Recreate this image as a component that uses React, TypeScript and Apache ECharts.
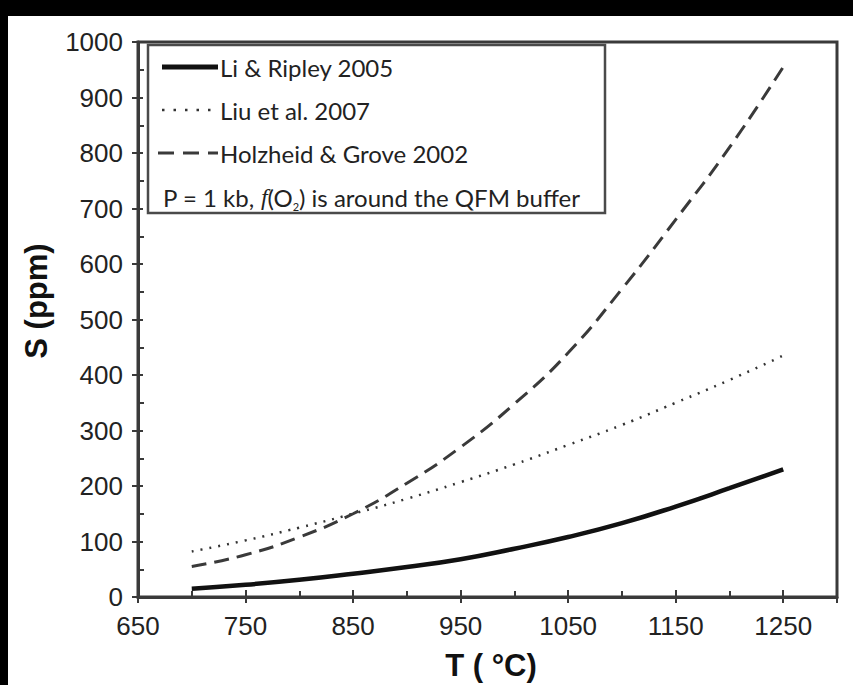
import React, { useEffect, useRef } from "react";
import * as echarts from "echarts";

const temps = [700, 750, 800, 850, 900, 950, 1000, 1050, 1100, 1150, 1200, 1250];
const liRipley = [15, 22, 31, 42, 54, 68, 87, 108, 133, 163, 196, 230];
const liu = [82, 102, 125, 150, 177, 207, 239, 274, 310, 350, 391, 435];
const holzheid = [55, 76, 108, 150, 205, 270, 348, 440, 555, 680, 810, 955];

const seriesNames = ["Li & Ripley 2005", "Liu et al. 2007", "Holzheid & Grove 2002"];
const noteText = "P = 1 kb, {i|f}(O{sub|2}) is around the QFM buffer";
const xTitle = "T ( °C)";
const yTitle = "S (ppm)";

const AXIS_COLOR = "#3a3a3a";
const LABEL_FONT = "'Liberation Sans', Arial, sans-serif";
const LEGEND_FONT = "Lato, 'Open Sans', sans-serif";

function pairs(vals: number[]) {
  return temps.map((t, i) => [t, vals[i]]);
}

export default function App() {
  const ref = useRef<HTMLDivElement>(null);
  useEffect(() => {
    if (!ref.current) return;
    const chart = echarts.init(ref.current, null, { renderer: "svg" });
    const legendRows = [67, 110, 153];
    const lineStyles = [
      { stroke: "#111", lineWidth: 5, lineDash: null as any },
      { stroke: "#333", lineWidth: 2.5, lineDash: [2.5, 9] },
      { stroke: "#3a3a3a", lineWidth: 3, lineDash: [16, 9] },
    ];
    const option: any = {
      animation: false,
      backgroundColor: "#fff",
      grid: {
        left: 138,
        top: 42,
        right: 16,
        bottom: 88,
        show: true,
        borderColor: AXIS_COLOR,
        borderWidth: 3,
        backgroundColor: "#fff",
      },
      xAxis: [
        {
          type: "value",
          min: 650,
          max: 1300,
          interval: 100,
          position: "bottom",
          axisLine: { show: true, onZero: false, lineStyle: { color: AXIS_COLOR, width: 3 } },
          axisTick: { show: true, inside: true, length: 7, lineStyle: { color: AXIS_COLOR, width: 2 } },
          minorTick: { show: true, splitNumber: 2, length: 6, lineStyle: { color: AXIS_COLOR, width: 2 } },
          splitLine: { show: false },
          axisLabel: {
            margin: 16,
            fontSize: 26,
            fontFamily: LABEL_FONT,
            color: "#222",
            formatter: (v: number) => (v === 1300 ? "" : String(v)),
          },
        },
        {
          type: "value",
          min: 650,
          max: 1300,
          interval: 100,
          position: "bottom",
          offset: 0,
          axisLine: { show: false },
          axisTick: { show: true, inside: false, length: 6, lineStyle: { color: AXIS_COLOR, width: 2 } },
          axisLabel: { show: false },
          splitLine: { show: false },
        },
      ],
      yAxis: [
        {
          type: "value",
          min: 0,
          max: 1000,
          interval: 100,
          position: "left",
          axisLine: { show: true, onZero: false, lineStyle: { color: AXIS_COLOR, width: 3 } },
          axisTick: { show: true, inside: true, length: 5, lineStyle: { color: AXIS_COLOR, width: 2 } },
          minorTick: { show: true, splitNumber: 2, length: 6, lineStyle: { color: AXIS_COLOR, width: 2 } },
          splitLine: { show: false },
          axisLabel: {
            margin: 15,
            fontSize: 26,
            fontFamily: LABEL_FONT,
            color: "#222",
            formatter: (v: number) => String(v),
          },
        },
        {
          type: "value",
          min: 0,
          max: 1000,
          interval: 100,
          position: "left",
          offset: 0,
          axisLine: { show: false },
          axisTick: { show: true, inside: false, length: 6, lineStyle: { color: AXIS_COLOR, width: 2 } },
          axisLabel: { show: false },
          splitLine: { show: false },
        },
      ],
      series: [
        {
          name: seriesNames[0],
          type: "line",
          smooth: true,
          showSymbol: false,
          data: pairs(liRipley),
          lineStyle: { color: "#111", width: 4.5 },
          z: 3,
        },
        {
          name: seriesNames[1],
          type: "line",
          smooth: true,
          showSymbol: false,
          data: pairs(liu),
          lineStyle: { color: "#333", width: 2.5, type: [2, 7] },
          z: 3,
        },
        {
          name: seriesNames[2],
          type: "line",
          smooth: true,
          showSymbol: false,
          data: pairs(holzheid),
          lineStyle: { color: "#3a3a3a", width: 3, type: [15, 8] },
          z: 3,
        },
      ],
      graphic: [
        { type: "rect", shape: { x: 0, y: 0, width: 853, height: 16 }, style: { fill: "#000" }, z: 200 },
        { type: "rect", shape: { x: 0, y: 0, width: 8, height: 685 }, style: { fill: "#000" }, z: 200 },
        {
          type: "rect",
          shape: { x: 148, y: 45, width: 457, height: 168 },
          style: { fill: "#fff", stroke: "#4a4a4a", lineWidth: 2.5 },
          z: 100,
        },
        ...legendRows.map((y, i) => ({
          type: "line",
          shape: { x1: i === 2 ? 158 : 162, y1: y, x2: 218, y2: y },
          style: {
            stroke: lineStyles[i].stroke,
            lineWidth: lineStyles[i].lineWidth,
            lineDash: lineStyles[i].lineDash,
          },
          z: 101,
        })),
        ...legendRows.map((y, i) => ({
          type: "text",
          x: 220,
          y,
          style: {
            text: seriesNames[i],
            fontSize: 24,
            fontFamily: LEGEND_FONT,
            fill: "#222",
            align: "left",
            verticalAlign: "middle",
          },
          z: 101,
        })),
        {
          type: "text",
          x: 163,
          y: 197,
          style: {
            text: noteText,
            fontSize: 24,
            fontFamily: LEGEND_FONT,
            fill: "#222",
            align: "left",
            verticalAlign: "middle",
            lineHeight: 30,
            rich: {
              i: { fontSize: 24, fontFamily: "'Liberation Serif', serif", fontStyle: "italic", fill: "#222", lineHeight: 30 },
              sub: { fontSize: 11, fontFamily: LEGEND_FONT, fill: "#222", lineHeight: 30, verticalAlign: "bottom", padding: [10, 0, 0, 0] },
            },
          },
          z: 101,
        },
        {
          type: "text",
          x: 491,
          y: 665,
          style: {
            text: xTitle,
            fontSize: 31,
            fontWeight: "bold",
            fontFamily: LABEL_FONT,
            fill: "#111",
            align: "center",
            verticalAlign: "middle",
          },
          z: 101,
        },
        {
          type: "text",
          x: 36,
          y: 301,
          rotation: Math.PI / 2,
          style: {
            text: yTitle,
            fontSize: 31,
            fontWeight: "bold",
            fontFamily: LABEL_FONT,
            fill: "#111",
            align: "center",
            verticalAlign: "middle",
          },
          z: 101,
        },
      ],
    };
    chart.setOption(option);
    return () => chart.dispose();
  }, []);
  return (
    <div
      ref={ref}
      style={{ position: "absolute", left: 0, top: 0, width: 853, height: 685, background: "#fff" }}
    />
  );
}
